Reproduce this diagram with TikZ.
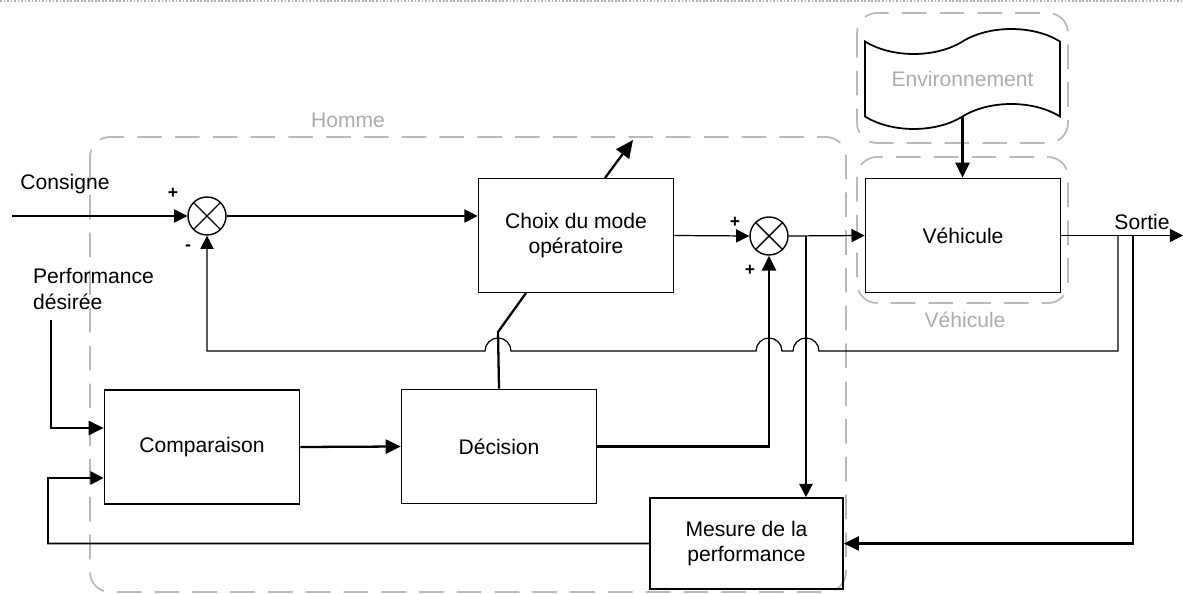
\documentclass[tikz,border=0pt]{standalone}
\usepackage{fontspec}
\setmainfont{Liberation Sans}
\usetikzlibrary{positioning, calc, arrows.meta, shapes.symbols}
\tikzset{
    block node/.style={rectangle, draw, line width=1pt, minimum width=3.9cm, minimum height=2.28cm, align=center, font=\fontsize{12}{14.5}\selectfont},
    sum node/.style={circle, draw, line width=0.8pt, minimum size=0.76cm, inner sep=0pt,
        path picture={\draw[line width=0.8pt] (path picture bounding box.south west) -- (path picture bounding box.north east)
            (path picture bounding box.north west) -- (path picture bounding box.south east);}},
    group frame/.style={draw=gray!55, line width=1pt, dash pattern=on 14pt off 7.5pt, rounded corners=0.4cm},
    group label/.style={text=gray!65, font=\fontsize{12}{14.5}\selectfont},
    plain label/.style={font=\fontsize{12}{14.5}\selectfont, inner sep=1pt},
    sign label/.style={font=\fontsize{10}{12}\selectfont\bfseries, inner sep=0pt},
    signal/.style={-{Triangle[length=7.5pt,width=7.5pt]}, line width=0.7pt},
    thick signal/.style={signal, line width=1.3pt, -{Triangle[length=8.5pt,width=8pt]}},
}
\newcommand{\drawframes}{
    \draw[gray!60, line width=1pt, densely dotted] (0,1) -- (1183,1);
    \draw[group frame] (90,137) rectangle (846,592);
    \draw[group frame] (857,13) rectangle (1068,143);
    \draw[group frame] (857,157) rectangle (1068,303);
}

\begin{document}
\begin{tikzpicture}[x=0.02cm, y=-0.02cm]
    \useasboundingbox (0,0) rectangle (1183,594);
    \drawframes
    \node[group label] (homme) at (348,120) {Homme};
    \node[group label] (vehlabel) at (965,320) {Véhicule};

    % blocs
    \node[block node] (choix) at (576,235.5) {Choix du mode\\opératoire};
    \node[block node] (vehicule) at (963,235.5) {Véhicule};
    \node[block node] (comparaison) at (202,447) {Comparaison};
    \node[block node] (decision) at (499,446.5) {Décision};
    \node[block node, minimum width=3.86cm, minimum height=1.82cm] (mesure) at (746.5,543.5) {Mesure de la\\performance};
    \node[tape, draw, line width=1pt, minimum width=3.9cm, minimum height=2cm, tape bend height=0.5cm,
        text=gray!65, font=\fontsize{12}{14.5}\selectfont] (env) at (962.5,79) {Environnement};

    % sommateurs
    \node[sum node] (sum1) at (207,216) {};
    \node[sum node] (sum2) at (769,236) {};

    % textes
    \node[plain label] (consigne) at (65,184) {Consigne};
    \node[plain label, align=left, anchor=west] (perf) at (31,289) {Performance\\désirée};
    \node[plain label] (sortie) at (1142,222) {Sortie};
    \node[sign label] at (173,193) {+};
    \node[sign label] at (188,248) {-};
    \node[sign label] at (735,222) {+};
    \node[sign label] at (750,270) {+};

    \coordinate (in) at (12,216);
    \coordinate (out) at (1183,235.5);
    \coordinate (br1) at (1118,235.5);
    \coordinate (br2) at (1133,235.5);
    \coordinate (br3) at (806,236);
    \coordinate (perfin) at (51,320);

    % liaisons
    \draw[signal] (in) -- (sum1.west);
    \draw[signal] (sum1.east) -- (sum1.east -| choix.west);
    \draw[signal] (choix.east) -- (sum2.west);
    \draw[signal] (sum2.east) -- (vehicule.west);
    \draw[signal] (vehicule.east) -- (out);
    \draw[thick signal] (env.south) -- (env.south |- vehicule.north);
    \draw[signal] (br1) -- (1118,351) -- (819,351) arc[start angle=0, end angle=180, radius=0.26cm]
        -- (782,351) arc[start angle=0, end angle=180, radius=0.26cm]
        -- (511,351) arc[start angle=0, end angle=180, radius=0.26cm]
        -- (207,351) -- (sum1.south);
    \draw[thick signal] (decision.east) -| (sum2.south);
    \draw[signal, line width=1pt] (br3) -- (br3 |- mesure.north);
    \draw[thick signal] (br2) |- (mesure.east);
    \draw[signal, line width=1pt] (mesure.west) -| (48,478) -- ([yshift=-0.62cm]comparaison.west);
    \draw[thick signal] (perfin) |- ([yshift=0.38cm]comparaison.west);
    \draw[thick signal] (comparaison.east) -- (decision.west);
    \draw[line width=1.3pt] (decision.north) -- (498,332) -- (526,293);
    \draw[thick signal, -{Triangle[length=10pt,width=9pt]}] (605,178) -- (633,140);
\end{tikzpicture}
\end{document}
